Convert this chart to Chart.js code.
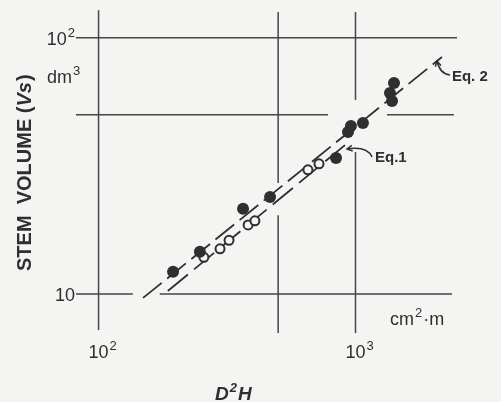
<!DOCTYPE html>
<html>
<head>
<meta charset="utf-8">
<script src="https://cdn.jsdelivr.net/npm/chart.js@4.4.0/dist/chart.umd.min.js"></script>
<style>
    html, body { margin: 0; padding: 0; background: #f4f4f2; }
    #wrap { width: 501px; height: 402px; }
</style>
</head>
<body>
<div id="wrap"><canvas id="volumeChart"></canvas></div>
<script>
// D²H (cm²·m) against stem volume Vs (dm³)
const filledX = [195, 248, 365, 465, 840, 935, 960, 1069, 1362, 1387, 1412];
const filledY = [12.2, 14.6, 21.5, 23.9, 33.9, 42.9, 45.2, 46.5, 60.9, 56.6, 66.6];
const openX = [257, 297, 322, 382, 406, 653, 721];
const openY = [13.9, 15.0, 16.2, 18.6, 19.3, 30.5, 32.2];

// end points of the two fitted equations
const eq2X = [149, 2170];
const eq2Y = [9.65, 84.1];
const eq1X = [186, 910];
const eq1Y = [10.27, 38.1];

const xGridValues = [100, 500, 1000];
const yGridValues = [10, 50, 100];
const xTickLabels = [['10', '2'], ['10', '3']];   // at 100, 1000
const yTickLabels = [['10', ''], ['10', '2']];    // at 10, 100

const ink = '#2f2f2f';
const paper = '#f4f4f2';
const toPoints = (xs, ys) => xs.map((x, i) => ({ x: x, y: ys[i] }));

// gridline pieces (data units), the scan has gaps where the data runs through
const gridPieces = {
    x: [[[7.24, 128]], [[7.04, 20.3], [27.1, 126]], [[7.04, 35.8], [57.2, 126]]],
    y: [[[81.7, 136], [173, 2375]], [[81.7, 781], [1326, 2415]], [[81.7, 2483]]]
};

// text with a raised small part, e.g. 10²
function supText(ctx, base, sup, x, y, align, font, supFont, tail) {
    ctx.font = font;
    const wb = ctx.measureText(base).width;
    ctx.font = supFont;
    const ws = ctx.measureText(sup).width;
    ctx.font = font;
    const wt = tail ? ctx.measureText(tail).width : 0;
    const total = wb + ws + wt + (sup ? 1 : 0);
    let left = x;
    if (align === 'right') left = x - total;
    if (align === 'center') left = x - wb / 2;
    ctx.textAlign = 'left';
    ctx.textBaseline = 'alphabetic';
    ctx.font = font;
    ctx.fillText(base, left, y);
    ctx.font = supFont;
    ctx.fillText(sup, left + wb + 1, y - 8);
    if (tail) {
        ctx.font = font;
        ctx.fillText(tail, left + wb + ws + 2, y);
    }
}

function arrow(ctx, tx, ty, cx, cy, ex, ey) {
    ctx.beginPath();
    ctx.moveTo(ex, ey);
    ctx.quadraticCurveTo(cx, cy, tx, ty);
    ctx.stroke();
    const a = Math.atan2(ty - cy, tx - cx);
    ctx.beginPath();
    ctx.moveTo(tx + 6 * Math.cos(a + Math.PI - 0.5), ty + 6 * Math.sin(a + Math.PI - 0.5));
    ctx.lineTo(tx, ty);
    ctx.lineTo(tx + 6 * Math.cos(a + Math.PI + 0.5), ty + 6 * Math.sin(a + Math.PI + 0.5));
    ctx.stroke();
}

const paperPlugin = {
    id: 'paper',
    beforeDraw(chart) {
        const ctx = chart.ctx;
        ctx.save();
        ctx.fillStyle = paper;
        ctx.fillRect(0, 0, chart.width, chart.height);
        ctx.restore();
    },
    beforeDatasetsDraw(chart) {
        const ctx = chart.ctx;
        const xs = chart.scales.x, ys = chart.scales.y;
        ctx.save();
        ctx.strokeStyle = '#454545';
        ctx.lineWidth = 1.5;
        xGridValues.forEach((v, i) => {
            const px = xs.getPixelForValue(v);
            gridPieces.x[i].forEach(([a, b]) => {
                ctx.beginPath();
                ctx.moveTo(px, ys.getPixelForValue(a));
                ctx.lineTo(px, ys.getPixelForValue(b));
                ctx.stroke();
            });
        });
        yGridValues.forEach((v, i) => {
            const py = ys.getPixelForValue(v);
            gridPieces.y[i].forEach(([a, b]) => {
                ctx.beginPath();
                ctx.moveTo(xs.getPixelForValue(a), py);
                ctx.lineTo(xs.getPixelForValue(b), py);
                ctx.stroke();
            });
        });
        ctx.restore();
    },
    afterDatasetsDraw(chart) {
        const ctx = chart.ctx;
        const xs = chart.scales.x, ys = chart.scales.y;
        const font = '18px "Liberation Sans", Arial, sans-serif';
        const small = '13px "Liberation Sans", Arial, sans-serif';
        ctx.save();
        ctx.fillStyle = ink;
        ctx.strokeStyle = ink;

        // y tick labels
        [10, 100].forEach((v, i) => {
            const py = ys.getPixelForValue(v);
            supText(ctx, yTickLabels[i][0], yTickLabels[i][1], xs.left - 1, py + 7, 'right', font, small);
        });
        supText(ctx, 'dm', '3', 47, ys.getPixelForValue(100) + 45, 'left', font, small);

        // x tick labels
        [100, 1000].forEach((v, i) => {
            const px = xs.getPixelForValue(v);
            supText(ctx, xTickLabels[i][0], xTickLabels[i][1], px, chart.chartArea.bottom + 25, 'center', font, small);
        });
        supText(ctx, 'cm', '2', 390, ys.getPixelForValue(10) + 31, 'left', font, small, '·m');

        // x axis title
        supText(ctx, 'D', '2', 215, 400, 'left',
            'italic bold 19px "Liberation Sans", Arial, sans-serif',
            'italic bold 13px "Liberation Sans", Arial, sans-serif', 'H');

        // y axis title, rotated
        ctx.save();
        ctx.translate(31, 271);
        ctx.rotate(-Math.PI / 2);
        ctx.textAlign = 'left';
        ctx.textBaseline = 'alphabetic';
        const bold = 'bold 20px "Liberation Sans", Arial, sans-serif';
        const boldIt = 'italic bold 20px "Liberation Sans", Arial, sans-serif';
        let cx = 0;
        [['STEM  VOLUME (', bold], ['Vs', boldIt], [')', bold]].forEach(([t, f]) => {
            ctx.font = f;
            ctx.fillText(t, cx, 0);
            cx += ctx.measureText(t).width + (t === 'Vs' ? 1 : 0);
        });
        ctx.restore();

        // equation labels with curved arrows
        ctx.lineWidth = 1.5;
        ctx.font = 'bold 15px "Liberation Sans", Arial, sans-serif';
        ctx.textAlign = 'left';
        const t2x = xs.getPixelForValue(2075), t2y = ys.getPixelForValue(81.1);
        arrow(ctx, t2x, t2y, t2x + 3, t2y + 13, t2x + 13, t2y + 14);
        ctx.fillText('Eq. 2', t2x + 15, t2y + 20);
        const t1x = xs.getPixelForValue(927), t1y = ys.getPixelForValue(36.8);
        arrow(ctx, t1x, t1y, t1x + 20, t1y - 3, t1x + 25, t1y + 8);
        ctx.fillText('Eq.1', t1x + 28, t1y + 13);
        ctx.restore();
    }
};

const chartConfig = {
    type: 'scatter',
    data: {
        datasets: [
            {
                label: 'filled',
                data: toPoints(filledX, filledY),
                pointRadius: 6,
                backgroundColor: ink,
                borderWidth: 0
            },
            {
                label: 'open',
                data: toPoints(openX, openY),
                pointRadius: 4.5,
                backgroundColor: paper,
                borderColor: ink,
                borderWidth: 2
            },
            {
                label: 'Eq.2',
                data: toPoints(eq2X, eq2Y),
                showLine: true,
                pointRadius: 0,
                borderColor: ink,
                borderWidth: 1.8,
                borderDash: [24, 7]
            },
            {
                label: 'Eq.1',
                data: toPoints(eq1X, eq1Y),
                showLine: true,
                pointRadius: 0,
                borderColor: ink,
                borderWidth: 1.8,
                borderDash: [26, 8]
            }
        ]
    },
    options: {
        responsive: true,
        maintainAspectRatio: false,
        animation: false,
        layout: {
            padding: { left: 76, right: 41, top: 10, bottom: 69 }
        },
        scales: {
            x: { type: 'logarithmic', min: 81.7, max: 2551, display: false },
            y: { type: 'logarithmic', min: 7.04, max: 128.3, display: false }
        },
        plugins: {
            legend: { display: false },
            tooltip: { enabled: false }
        }
    },
    plugins: [paperPlugin]
};

const volumeChart = new Chart(document.getElementById('volumeChart').getContext('2d'), chartConfig);
</script>
</body>
</html>
